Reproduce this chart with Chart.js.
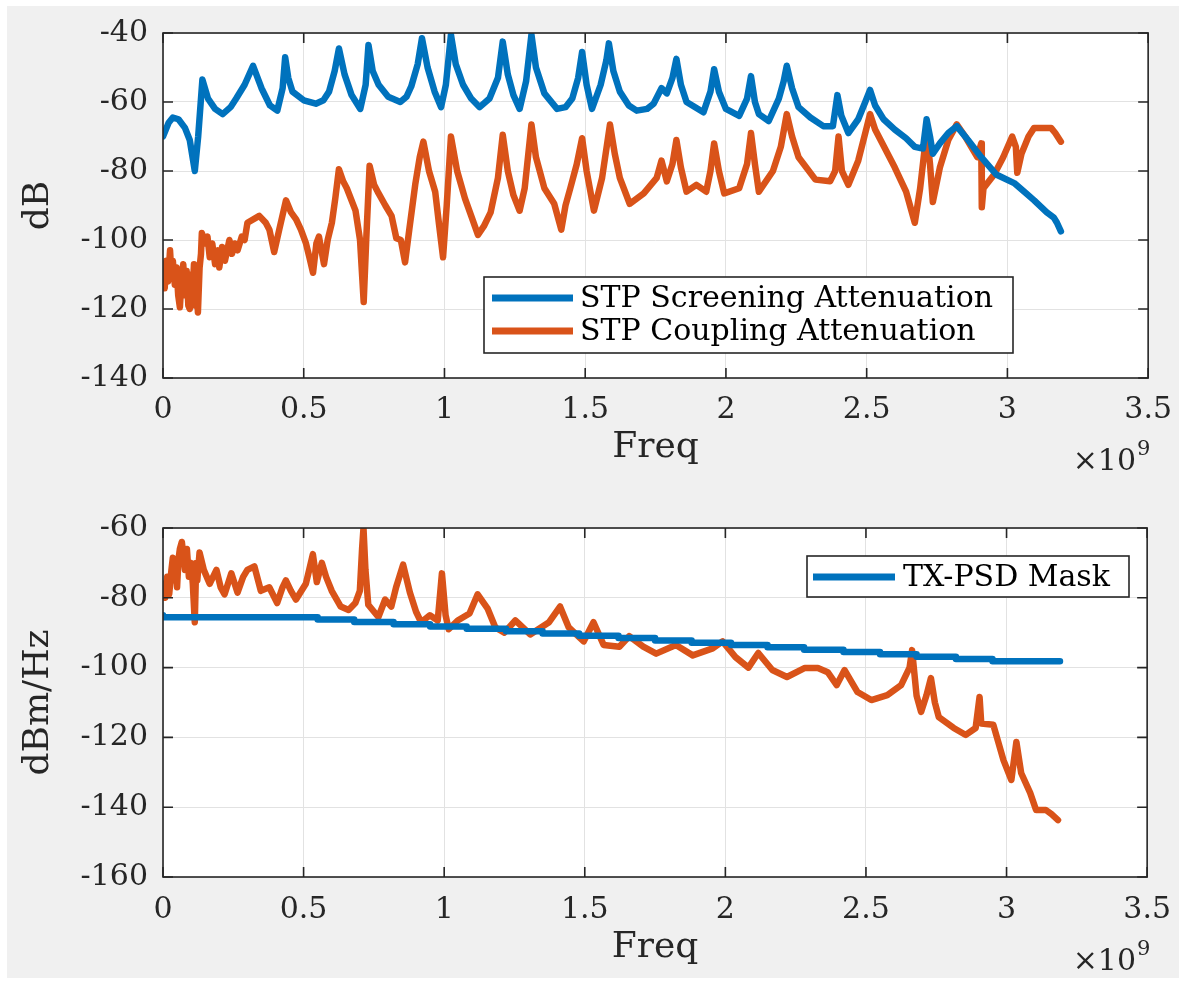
<!DOCTYPE html>
<html><head><meta charset="utf-8">
<script src="https://cdn.jsdelivr.net/npm/chart.js@4.4.1/dist/chart.umd.min.js"></script>
<style>
html,body{margin:0;padding:0;background:#fff;width:1186px;height:981px;overflow:hidden;}
#bg{position:absolute;left:7px;top:6px;width:1172px;height:972px;background:#f0f0f0;}
canvas{position:absolute;left:0;}
#c1{top:0}
#c2{top:490px}
</style></head><body>
<div id="bg"></div>
<canvas id="c1" width="1186" height="490"></canvas>
<canvas id="c2" width="1186" height="491"></canvas>
<script>
// ---------- DATA (frequency in GHz, i.e. x 10^9 Hz) ----------
const xTicks = [0, 0.5, 1, 1.5, 2, 2.5, 3, 3.5];
const yTicksTop = [-140, -120, -100, -80, -60, -40];
const yTicksBottom = [-160, -140, -120, -100, -80, -60];

const screenFreq = [0,0.02,0.035,0.055,0.078,0.095,0.113,0.125,0.14,0.16,0.185,0.212,0.24,0.26,0.29,0.32,0.35,0.38,0.406,0.425,0.434,0.445,0.46,0.5,0.543,0.57,0.59,0.61,0.625,0.645,0.67,0.701,0.72,0.73,0.745,0.766,0.8,0.843,0.865,0.882,0.905,0.92,0.94,0.965,0.988,1.005,1.023,1.04,1.066,1.095,1.125,1.16,1.19,1.207,1.225,1.245,1.267,1.29,1.309,1.325,1.355,1.40,1.43,1.454,1.475,1.489,1.505,1.524,1.555,1.575,1.584,1.6,1.623,1.655,1.683,1.72,1.743,1.771,1.79,1.81,1.824,1.84,1.86,1.92,1.945,1.958,1.975,2.0,2.047,2.075,2.089,2.103,2.117,2.152,2.188,2.205,2.216,2.235,2.258,2.30,2.346,2.38,2.396,2.41,2.435,2.47,2.495,2.512,2.53,2.56,2.6,2.64,2.671,2.70,2.713,2.725,2.735,2.76,2.79,2.82,2.86,2.907,2.96,3.024,3.06,3.095,3.14,3.165,3.176,3.19];
const screenDb = [-70,-66,-64.5,-65,-67.5,-71,-80,-70,-53.5,-59,-62,-63.5,-61.5,-59,-55,-49.5,-56,-61,-62.5,-56,-47,-53,-57,-59.5,-60.5,-59.5,-57,-51,-44.5,-52,-58,-62,-55,-43.5,-51,-55,-58.5,-60,-58.5,-55.5,-49,-41.5,-50,-57,-61.5,-55,-40.5,-49,-55,-59,-61.5,-59,-53,-42.5,-52,-58,-62,-54,-40.5,-50,-57.5,-62,-61.5,-59,-53,-45.5,-55,-62,-55,-48,-43,-51,-57,-61,-62.5,-62,-60.5,-56,-57.5,-53,-47.5,-55,-60,-63,-57,-50.5,-57,-62,-64,-59,-52.5,-60,-63.5,-65.5,-59,-54,-49.5,-56,-61.5,-64.5,-67,-67,-58,-64,-69,-65,-60,-56.5,-61,-65,-68,-70.5,-73,-73.5,-65,-70,-75,-72,-69,-67,-71,-76,-81,-83.5,-86,-88.5,-92,-93.5,-95,-97.5];

const couplingFreq = [0,0.006,0.012,0.018,0.025,0.03,0.035,0.042,0.048,0.054,0.06,0.066,0.072,0.078,0.084,0.09,0.095,0.1,0.105,0.11,0.115,0.12,0.124,0.13,0.135,0.138,0.15,0.158,0.166,0.175,0.185,0.195,0.2,0.21,0.22,0.236,0.245,0.255,0.265,0.28,0.29,0.3,0.342,0.365,0.378,0.395,0.413,0.437,0.455,0.473,0.49,0.508,0.52,0.533,0.545,0.554,0.572,0.585,0.6,0.612,0.625,0.64,0.653,0.684,0.7,0.713,0.722,0.734,0.75,0.766,0.79,0.812,0.829,0.845,0.86,0.875,0.896,0.912,0.925,0.945,0.967,0.98,0.995,1.008,1.023,1.045,1.073,1.095,1.119,1.14,1.164,1.19,1.207,1.225,1.245,1.267,1.285,1.309,1.325,1.355,1.39,1.415,1.43,1.447,1.47,1.489,1.505,1.531,1.56,1.588,1.605,1.623,1.658,1.708,1.754,1.771,1.79,1.81,1.824,1.84,1.86,1.895,1.93,1.945,1.958,1.975,1.994,2.047,2.075,2.089,2.103,2.117,2.167,2.195,2.216,2.235,2.258,2.318,2.37,2.388,2.4,2.412,2.435,2.47,2.495,2.512,2.53,2.6,2.64,2.671,2.69,2.713,2.725,2.735,2.76,2.79,2.82,2.85,2.893,2.907,2.909,2.915,2.953,2.985,3.017,3.03,3.035,3.05,3.075,3.095,3.155,3.17,3.19];
const couplingDb = [-110,-114,-106,-112,-103,-110,-106,-113,-108,-116,-119.5,-111,-107,-116,-109,-119,-120,-110,-116,-107,-119,-112,-121,-108,-104,-98,-101,-99,-105,-101,-107,-103,-108,-102,-106,-100,-104,-101,-103,-99,-100,-95,-93,-95,-97,-103.5,-97,-88.5,-92,-94,-97,-101,-105,-109.5,-101,-99,-107,-100,-95,-88,-79.5,-83,-85,-91.5,-100,-118,-100,-78.5,-84,-86.5,-90,-93,-99.5,-100,-106.5,-97,-84,-76,-71.5,-80,-86,-95,-105,-90,-70,-80,-88,-93,-98.5,-96,-92,-82,-69.5,-80,-87,-91.5,-85,-66.5,-76,-85,-89.5,-97,-90,-85,-78,-70.5,-80,-91.5,-82,-66.5,-75,-82,-89.5,-86.5,-82,-77,-83,-78,-71,-79,-86,-84,-86,-80,-72,-80,-86.5,-85,-78,-69,-78,-86,-80,-73,-63.5,-70,-76,-82.5,-83,-80,-70,-80,-84,-77,-69,-63.5,-68,-79,-86,-95,-85,-68.5,-78,-89,-79,-71,-66.5,-70,-76,-72,-90.5,-85,-81,-76,-70,-73,-80.5,-75,-70,-67.5,-67.5,-69,-71.5];

const maskFreq = [0,0.55,0.68,0.82,0.95,1.08,1.22,1.35,1.48,1.62,1.75,1.88,2.02,2.15,2.28,2.42,2.55,2.68,2.82,2.95,3.08,3.19];
const maskDbm = [-85,-85.6,-86.2,-86.9,-87.6,-88.2,-88.9,-89.6,-90.2,-90.9,-91.5,-92.2,-92.9,-93.5,-94.2,-94.9,-95.5,-96.2,-96.9,-97.5,-98.2,-98.2];

const psdFreq = [0,0.008,0.015,0.022,0.03,0.035,0.04,0.045,0.05,0.055,0.06,0.067,0.073,0.078,0.085,0.092,0.1,0.106,0.113,0.118,0.122,0.13,0.145,0.166,0.19,0.205,0.219,0.243,0.265,0.285,0.3,0.325,0.348,0.378,0.406,0.425,0.437,0.455,0.473,0.508,0.52,0.533,0.547,0.565,0.58,0.6,0.632,0.66,0.684,0.7,0.708,0.713,0.72,0.73,0.766,0.79,0.812,0.829,0.854,0.878,0.9,0.918,0.949,0.977,0.992,1.005,1.016,1.048,1.09,1.119,1.154,1.182,1.214,1.253,1.306,1.373,1.412,1.443,1.496,1.531,1.567,1.623,1.658,1.708,1.754,1.824,1.884,1.955,1.99,2.036,2.082,2.117,2.167,2.219,2.283,2.329,2.364,2.396,2.424,2.47,2.519,2.576,2.625,2.655,2.664,2.68,2.696,2.715,2.731,2.745,2.759,2.812,2.855,2.89,2.904,2.91,2.953,2.989,3.017,3.035,3.052,3.084,3.105,3.14,3.16,3.183];
const psdDbm = [-76,-80,-74,-79,-72,-68.5,-75,-70,-77,-69,-66,-64,-68,-72,-66,-74,-70,-76,-87,-70,-75,-67,-72,-76,-72,-77,-79,-73,-78.5,-74,-72,-71,-78,-77,-81.5,-77,-75,-78,-80.5,-76,-72,-67.5,-75.5,-70,-74,-78,-82.5,-83.5,-81.5,-78,-66,-60,-72,-82,-85.5,-80.5,-82.5,-77,-70.5,-78.5,-84,-87,-85,-86.5,-73,-85,-89,-86.5,-84.5,-79,-83,-88.5,-90,-86.5,-90.5,-87,-82.5,-88.5,-92.5,-87,-93.5,-94,-91,-94,-96,-93.5,-96.5,-94.5,-92.5,-97,-100,-95.8,-100.7,-102.7,-100.1,-100.1,-101.3,-105,-100.7,-107,-109.3,-107.9,-105,-100,-95,-108,-112.7,-108,-103,-110,-114.2,-117.3,-119.3,-117.3,-108.4,-116,-116.4,-126.5,-132.2,-121.3,-130.2,-135.9,-140.8,-140.8,-142,-143.7];

// ---------- STYLE ----------
const FONT = "'DejaVu Serif', serif";
const BLUE = '#0072BD', ORANGE = '#D95319', AXIS = '#262626';
const pts = (xs, ys) => xs.map((x, i) => ({x, y: ys[i]}));

const matlabPlugin = {
  id: 'matlab',
  beforeDraw(chart) {
    const {ctx, chartArea: a} = chart;
    ctx.save(); ctx.fillStyle = '#fff';
    ctx.fillRect(a.left, a.top, a.right - a.left, a.bottom - a.top);
    ctx.restore();
  },
  afterDraw(chart) {
    const {ctx, chartArea: a, scales: {x, y}} = chart;
    const o = chart.options.plugins.matlab;
    ctx.save();
    ctx.strokeStyle = AXIS; ctx.lineWidth = 1.6;
    ctx.beginPath();
    const tl = 10;
    x.ticks.forEach(t => { const p = x.getPixelForValue(t.value);
      ctx.moveTo(p, a.bottom); ctx.lineTo(p, a.bottom - tl);
      ctx.moveTo(p, a.top); ctx.lineTo(p, a.top + tl); });
    y.ticks.forEach(t => { const p = y.getPixelForValue(t.value);
      ctx.moveTo(a.left, p); ctx.lineTo(a.left + tl, p);
      ctx.moveTo(a.right, p); ctx.lineTo(a.right - tl, p); });
    ctx.stroke();
    ctx.strokeRect(a.left, a.top, a.right - a.left, a.bottom - a.top);
    // legend box
    const L = o.legend;
    ctx.fillStyle = '#fff';
    ctx.fillRect(L.box[0], L.box[1], L.box[2] - L.box[0], L.box[3] - L.box[1]);
    ctx.lineWidth = 1.6; ctx.strokeStyle = '#262626';
    ctx.strokeRect(L.box[0], L.box[1], L.box[2] - L.box[0], L.box[3] - L.box[1]);
    ctx.font = '30px ' + FONT; ctx.textBaseline = 'middle'; ctx.textAlign = 'left';
    chart.data.datasets.forEach((ds, i) => {
      if (L.rows[i] === undefined) return;
      const ry = L.rows[i];
      ctx.strokeStyle = ds.borderColor; ctx.lineWidth = 7; ctx.lineCap = 'butt';
      ctx.beginPath(); ctx.moveTo(L.line[0], ry); ctx.lineTo(L.line[1], ry); ctx.stroke();
      ctx.fillStyle = '#000';
      ctx.fillText(ds.label, L.textX, ry + 1);
    });
    // exponent label
    ctx.fillStyle = '#262626'; ctx.textBaseline = 'alphabetic'; ctx.textAlign = 'right';
    ctx.font = '30px ' + FONT;
    ctx.fillText('\u00d710', o.expX, o.expY);
    ctx.textAlign = 'left'; ctx.font = '21px ' + FONT;
    ctx.fillText('9', o.expX + 1, o.expY - 15);
    ctx.restore();
  }
};

function makeChart(id, datasets, yTicks, cfg) {
  return new Chart(document.getElementById(id), {
    type: 'scatter',
    data: {datasets},
    plugins: [matlabPlugin],
    options: {
      responsive: false, animation: false,
      layout: {padding: {left: 0, right: 31, top: cfg.top, bottom: 0}},
      elements: {point: {radius: 0}, line: {borderWidth: 6.5, tension: 0, borderJoinStyle: 'round', borderCapStyle: 'round'}},
      plugins: {legend: {display: false}, tooltip: {enabled: false},
        matlab: {legend: cfg.legend, expX: 1136, expY: cfg.expY}},
      scales: {
        x: {type: 'linear', min: 0, max: 3.5,
          afterBuildTicks: s => { s.ticks = xTicks.map(v => ({value: v})); },
          afterFit: s => { s.height = cfg.xh; },
          grid: {color: '#e2e2e2', lineWidth: 1, drawTicks: false},
          border: {display: false},
          ticks: {color: AXIS, font: {family: FONT, size: 30}, padding: cfg.xpad, maxRotation: 0,
            callback: v => String(v)},
          title: {display: true, text: 'Freq', color: AXIS, font: {family: FONT, size: 36}, padding: {top: 0, bottom: cfg.tpad}}
        },
        y: {type: 'linear', min: yTicks[0], max: yTicks[yTicks.length - 1],
          afterBuildTicks: s => { s.ticks = yTicks.map(v => ({value: v})); },
          afterFit: s => { s.width = 163; },
          grid: {color: '#e2e2e2', lineWidth: 1, drawTicks: false},
          border: {display: false},
          ticks: {color: AXIS, font: {family: FONT, size: 30}, padding: 15, callback: v => String(v)},
          title: {display: true, text: cfg.ytitle, color: AXIS, font: {family: FONT, size: 36}, padding: {top: 17, bottom: 0}}
        }
      }
    }
  });
}

makeChart('c1', [
  {label: 'STP Screening Attenuation', data: pts(screenFreq, screenDb), showLine: true, borderColor: BLUE, backgroundColor: BLUE},
  {label: 'STP Coupling Attenuation', data: pts(couplingFreq, couplingDb), showLine: true, borderColor: ORANGE, backgroundColor: ORANGE}
], yTicksTop, {top: 32, xh: 112, xpad: 14, tpad: 21, ytitle: 'dB', expY: 470,
  legend: {box: [484, 277, 1013, 353], rows: [298, 331], line: [492, 573], textX: 580}});

makeChart('c2', [
  {label: 'TX-PSD Mask', data: pts(maskFreq, maskDbm), showLine: true, stepped: 'after', borderColor: BLUE, backgroundColor: BLUE},
  {label: 'PSD', data: pts(psdFreq, psdDbm), showLine: true, borderColor: ORANGE, backgroundColor: ORANGE}
], yTicksBottom, {top: 38, xh: 104, xpad: 15, tpad: 12, ytitle: 'dBm/Hz', expY: 480,
  legend: {box: [807, 66, 1129, 107], rows: [87], line: [813, 895], textX: 903}});
</script>
</body></html>
